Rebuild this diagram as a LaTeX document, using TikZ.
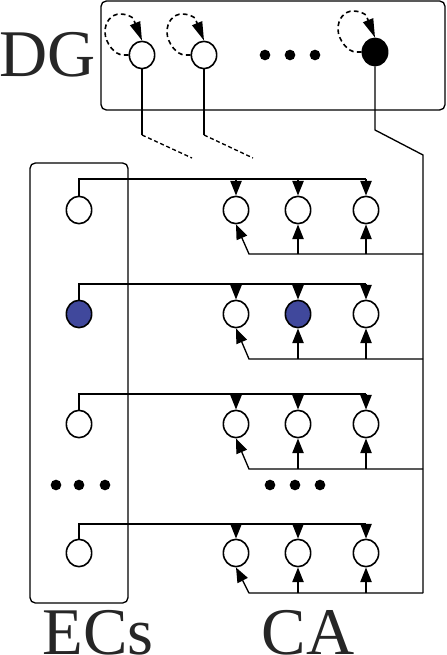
\documentclass[tikz,border=0pt]{standalone}
\usepackage{fontspec}
\setmainfont{Liberation Serif}
\usetikzlibrary{arrows.meta,shapes.geometric}
\definecolor{cellblue}{RGB}{64,72,156}
\tikzset{
  cell/.style={draw,ellipse,line width=1.2pt,minimum width=19pt,minimum height=20.5pt,inner sep=0pt},
  wire/.style={line width=1pt},
  tip/.style={-{Triangle[length=11pt,width=8.5pt]}},
  loopline/.style={line width=1.2pt,dash pattern=on 3.5pt off 2.5pt,-{Triangle[length=14pt,width=8pt]}},
  dotm/.style={circle,fill=black,inner sep=0pt,minimum size=8pt},
  big/.style={font=\fontsize{50}{50}\selectfont,text=black!85,inner sep=0pt}
}
\begin{document}
\begin{tikzpicture}[x=0.75pt,y=-0.75pt]
  \useasboundingbox (0,0) rectangle (446,655);
  % DG 框
  \draw[wire,rounded corners=4pt] (101,1) rectangle (445,110);
  \node[big] (dg) at (48,55) {DG};
  \node[cell] (d1) at (142,55) {};
  \node[cell] (d2) at (204,55) {};
  \node[cell,fill=black] (d3) at (375,52) {};
  \foreach \x in {265,290,315} \node[dotm] at (\x,55) {};
  % 自环（虚线）
  \foreach \n in {d1,d2,d3}{
    \begin{scope}[shift={(\n)}]
      \draw[loopline] (\n.west) -- (-19,0)
        .. controls (-27,0) and (-37,-12) .. (-37,-23)
        .. controls (-37,-34) and (-30,-41) .. (-22,-41)
        .. controls (-16,-41) and (-12,-39) .. (-9,-37) -- (\n.north);
    \end{scope}
  }
  % DG 输出
  \draw[wire] (d1.south) -- (d1 |- 0,135) coordinate (k1);
  \draw[wire,dash pattern=on 3pt off 2pt] (k1) -- ++(50,23);
  \draw[wire] (d2.south) -- (d2 |- 0,135) coordinate (k2);
  \draw[wire,dash pattern=on 3pt off 2pt] (k2) -- ++(49,23);
  \draw[wire] (d3.south) -- (d3 |- 0,130) -- (423,155) -- (423,593);
  % ECs 框
  \draw[wire,rounded corners=4pt] (30,163) rectangle (128,603);
  % 各行
  \foreach \i/\y/\t/\b/\f in {1/210/179/254/white,2/314/284/359/cellblue,3/424/394/469/white,4/553/524/593/white}{
    \node[cell,fill=\f] (e\i) at (79,\y) {};
    \node[cell] (a\i) at (236,\y) {};
    \node[cell,fill=\f] (b\i) at (298,\y) {};
    \node[cell] (c\i) at (366,\y) {};
    % 上方输入
    \draw[wire] (e\i.north) |- (c\i |- 0,\t) coordinate (t\i);
    \foreach \n in {a,b,c}
      \draw[wire,tip] (\n\i |- t\i) -- (\n\i.north);
    % 下方反馈
    \draw[wire,tip] (423,\b) -- (249,\b) -- (a\i.south);
    \draw[wire,tip] (b\i |- 0,\b) -- (b\i.south);
    \draw[wire,tip] (c\i |- 0,\b) -- (c\i.south);
  }
  \foreach \x in {56,79,105} \node[dotm] at (\x,485) {};
  \foreach \x in {270,295,320} \node[dotm] at (\x,485) {};
  % 标签
  \node[big,anchor=base] (ecs) at (98,654) {ECs};
  \node[big,anchor=base] (ca) at (308,654) {CA};
\end{tikzpicture}
\end{document}
